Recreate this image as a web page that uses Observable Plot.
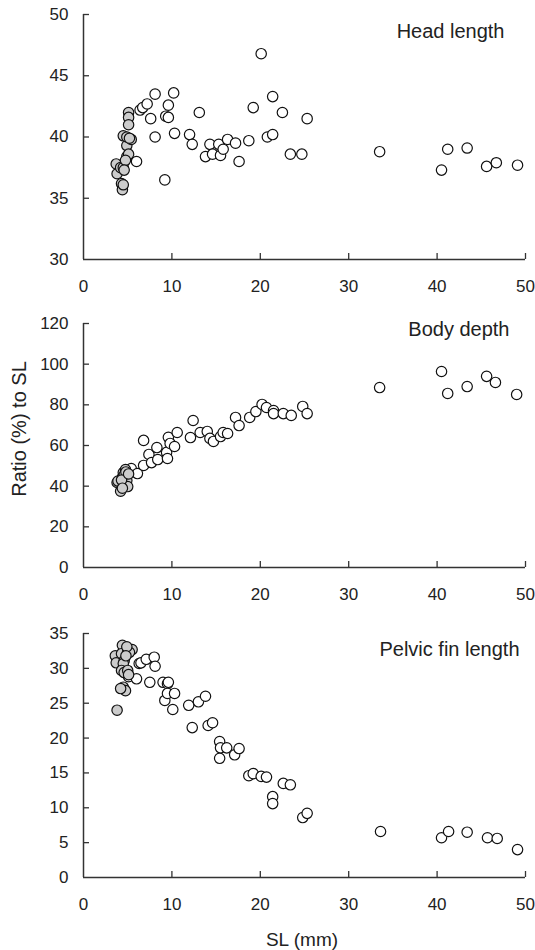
<!DOCTYPE html>
<html><head><meta charset="utf-8">
<script src="https://cdn.jsdelivr.net/npm/d3@7"></script>
<script src="https://cdn.jsdelivr.net/npm/@observablehq/plot@0.6"></script>
<style>
body{margin:0;background:#fff;}
#wrap{position:relative;width:535px;height:950px;font-family:"Liberation Sans",Arial,sans-serif;color:#222;background:#fff;}
.panel{position:absolute;left:0;}
#ylab{position:absolute;left:19px;top:429px;transform:translate(-50%,-50%) rotate(-90deg);font-size:20px;white-space:nowrap;}
#xlab{position:absolute;left:302px;top:940px;transform:translate(-50%,-50%);font-size:19px;white-space:nowrap;}
</style></head>
<body>
<div id="wrap">
  <div class="panel" id="p1" style="top:0px"></div>
  <div class="panel" id="p2" style="top:300px"></div>
  <div class="panel" id="p3" style="top:610px"></div>
  <div id="ylab">Ratio (%) to SL</div>
  <div id="xlab">SL (mm)</div>
</div>
<script>
// ---- tick labels ----
const xTicks = [0, 10, 20, 30, 40, 50];
const headTicks = [30, 35, 40, 45, 50];
const bodyTicks = [0, 20, 40, 60, 80, 100, 120];
const pelvicTicks = [0, 5, 10, 15, 20, 25, 30, 35];
const titles = ["Head length", "Body depth", "Pelvic fin length"];

// ---- Head length (% SL) ----
const headSmallSL    = [3.7, 3.8, 4.2, 4.5, 4.3, 4.4, 4.5, 4.5, 4.9, 4.9, 5.1, 4.9, 5.1, 5.1, 5.1, 5.4, 5.2, 4.75, 4.6];
const headSmallRatio = [37.8, 37.0, 37.5, 37.5, 36.2, 35.7, 36.1, 40.1, 39.3, 38.4, 38.6, 40.0, 42.0, 41.6, 41.0, 39.8, 39.9, 38.1, 37.3];
const headSL    = [6.0, 6.4, 6.7, 7.2, 7.6, 8.1, 8.1, 9.3, 9.6, 9.6, 9.2, 10.2, 10.3, 12.0, 12.3, 13.1, 13.8, 14.3, 14.6, 15.3, 15.5, 15.8, 16.3, 17.2, 17.6, 18.7, 19.2, 20.1, 20.8, 21.4, 21.4, 22.5, 23.4, 24.7, 25.3, 33.5, 40.5, 41.2, 43.4, 45.6, 46.7, 49.1];
const headRatio = [38.0, 42.2, 42.4, 42.7, 41.5, 43.5, 40.0, 41.7, 42.6, 41.6, 36.5, 43.6, 40.3, 40.2, 39.4, 42.0, 38.4, 39.4, 38.6, 39.4, 38.5, 39.0, 39.8, 39.5, 38.0, 39.7, 42.4, 46.8, 40.0, 43.3, 40.2, 42.0, 38.6, 38.6, 41.5, 38.8, 37.3, 39.0, 39.1, 37.6, 37.9, 37.7];

// ---- Body depth (% SL) ----
const bodySmallSL    = [3.8, 3.9, 4.2, 4.4, 4.5, 4.6, 4.75, 4.9, 5.0, 4.6, 4.8, 4.3, 5.1, 4.4];
const bodySmallRatio = [41.8, 42.5, 37.5, 44.3, 46.7, 40.5, 48.2, 42.8, 39.8, 45.5, 47.0, 43.0, 46.0, 39.0];
const bodySL    = [5.4, 6.1, 6.8, 6.8, 7.4, 7.7, 8.3, 8.4, 9.4, 9.5, 9.6, 9.8, 10.3, 10.6, 12.1, 12.4, 13.2, 14.0, 14.3, 14.7, 15.5, 15.8, 16.3, 17.2, 17.6, 18.8, 19.5, 20.2, 20.7, 21.5, 21.5, 22.6, 23.5, 24.8, 25.3, 33.5, 40.5, 41.2, 43.4, 45.6, 46.6, 49.0];
const bodyRatio = [48.7, 46.2, 50.2, 62.5, 55.6, 51.6, 59.0, 53.1, 56.6, 53.6, 64.0, 61.0, 59.5, 66.4, 63.9, 72.3, 66.4, 66.9, 63.5, 62.0, 64.4, 66.4, 65.9, 73.8, 69.8, 73.8, 76.7, 80.2, 78.7, 77.2, 75.7, 75.7, 74.8, 79.2, 75.7, 88.5, 96.4, 85.6, 89.0, 94.0, 91.0, 85.1];

// ---- Pelvic fin length (% SL) ----
const pelvicSmallSL    = [3.8, 3.6, 3.7, 4.4, 4.3, 4.6, 5.0, 5.5, 5.2, 4.5, 4.3, 4.6, 5.0, 5.1, 4.5, 4.75, 4.2, 4.9, 4.8];
const pelvicSmallRatio = [24.0, 31.8, 30.8, 33.3, 32.1, 31.1, 32.4, 32.7, 32.3, 30.7, 29.7, 29.4, 29.7, 29.1, 27.3, 26.8, 27.1, 33.1, 31.8];
const pelvicSL    = [5.1, 6.0, 6.3, 6.5, 7.1, 7.5, 8.0, 8.1, 9.0, 9.5, 9.6, 9.2, 9.5, 10.1, 10.3, 11.9, 12.3, 13.0, 13.8, 14.1, 14.6, 15.4, 15.5, 15.4, 16.2, 17.1, 17.6, 18.7, 19.2, 20.1, 20.7, 21.4, 21.4, 22.6, 23.4, 24.8, 25.3, 33.6, 40.5, 41.3, 43.4, 45.7, 46.8, 49.1];
const pelvicRatio = [28.8, 28.5, 30.7, 30.8, 31.3, 28.0, 31.6, 30.3, 28.0, 27.8, 28.0, 25.4, 26.4, 24.1, 26.4, 24.7, 21.5, 25.2, 26.0, 21.8, 22.2, 19.5, 18.6, 17.1, 18.6, 17.6, 18.5, 14.6, 14.9, 14.5, 14.4, 11.6, 10.6, 13.5, 13.3, 8.6, 9.2, 6.6, 5.7, 6.6, 6.5, 5.7, 5.6, 4.0];

const W = 535, ML = 83, MR = 10;
const AXIS = "#333";

function panel(el, {title, yTicks, smallX, smallY, bigX, bigY, height, marginTop, marginBottom, titleDx, titleDy}) {
  const plotW = W - ML - MR;
  const plotH = height - marginTop - marginBottom;
  const ymin = yTicks[0], ymax = yTicks[yTicks.length - 1];
  const small = smallX.map((x, i) => ({sl: x, ratio: smallY[i]}));
  const big = bigX.map((x, i) => ({sl: x, ratio: bigY[i]}));
  const chart = Plot.plot({
    width: W, height, marginLeft: ML, marginRight: MR, marginTop, marginBottom,
    style: {fontFamily: '"Liberation Sans", Arial, sans-serif', fontSize: "17px", color: "#222", background: "white", overflow: "visible"},
    x: {domain: [0, 50]},
    y: {domain: [ymin, ymax]},
    marks: [
      Plot.axisX(xTicks, {tickSize: 0, tickPadding: 20, label: null, fontSize: 17}),
      Plot.axisY(yTicks, {tickSize: 0, tickPadding: 15, label: null, fontSize: 17}),
      Plot.ruleX(xTicks.slice(1), {x: d => d, insetTop: plotH - 6, stroke: AXIS, strokeWidth: 1.3}),
      Plot.ruleY(yTicks.slice(1), {y: d => d, insetRight: plotW - 6, stroke: AXIS, strokeWidth: 1.3}),
      Plot.ruleX([0], {stroke: AXIS, strokeWidth: 1.5}),
      Plot.ruleY([ymin], {stroke: AXIS, strokeWidth: 1.5}),
      Plot.dot(big, {x: "sl", y: "ratio", r: 5.2, fill: "white", stroke: "#111", strokeWidth: 1.2}),
      Plot.dot(small, {x: "sl", y: "ratio", r: 5.2, fill: "#cccccc", stroke: "#111", strokeWidth: 1.2}),
      Plot.text([title], {frameAnchor: "top-right", textAnchor: "end", lineAnchor: "bottom", dx: titleDx, dy: titleDy, fontSize: 20, fill: "#222"})
    ]
  });
  document.getElementById(el).appendChild(chart);
}

panel("p1", {title: titles[0], yTicks: headTicks, smallX: headSmallSL, smallY: headSmallRatio, bigX: headSL, bigY: headRatio,
  height: 300, marginTop: 14, marginBottom: 41, titleDx: -21, titleDy: 23});
panel("p2", {title: titles[1], yTicks: bodyTicks, smallX: bodySmallSL, smallY: bodySmallRatio, bigX: bodySL, bigY: bodyRatio,
  height: 310, marginTop: 23, marginBottom: 43, titleDx: -16, titleDy: 12});
panel("p3", {title: titles[2], yTicks: pelvicTicks, smallX: pelvicSmallSL, smallY: pelvicSmallRatio, bigX: pelvicSL, bigY: pelvicRatio,
  height: 340, marginTop: 23, marginBottom: 73, titleDx: -6, titleDy: 22});
</script>
</body></html>
